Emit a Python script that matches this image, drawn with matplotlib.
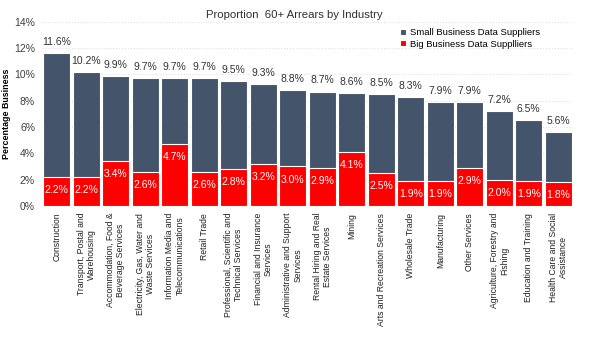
import matplotlib
matplotlib.use('Agg')
import matplotlib.pyplot as plt
import numpy as np

plt.rcParams['font.family'] = ['Liberation Sans', 'DejaVu Sans']

industries = ['Construction', 'Transport, Postal and\nWarehousing',
              'Accommodation, Food &\nBeverage Services',
              'Electricity, Gas, Water and\nWaste Services',
              'Information Media and\nTelecommunications', 'Retail Trade',
              'Professional, Scientific and\nTechnical Services',
              'Financial and Insurance\nServices',
              'Administrative and Support\nServices',
              'Rental Hiring and Real\nEstate Services', 'Mining',
              'Arts and Recreation Services', 'Wholesale Trade', 'Manufacturing',
              'Other Services', 'Agriculture, Forestry and\nFishing',
              'Education and Training', 'Health Care and Social\nAssistance']
small_total = [11.6, 10.2, 9.9, 9.7, 9.7, 9.7, 9.5, 9.3, 8.8, 8.7, 8.6, 8.5, 8.3, 7.9, 7.9, 7.2, 6.5, 5.6]
big = [2.2, 2.2, 3.4, 2.6, 4.7, 2.6, 2.8, 3.2, 3.0, 2.9, 4.1, 2.5, 1.9, 1.9, 2.9, 2.0, 1.9, 1.8]
yticks = [0, 2, 4, 6, 8, 10, 12, 14]

grey = '#44546A'
red = '#FF0000'

fig = plt.figure(figsize=(6, 3.37), dpi=100)
ax = fig.add_axes([0.07, 0.389, 0.885, 0.546])

x = np.arange(len(industries))
ax.bar(x, small_total, width=0.92, color=grey, edgecolor='white', linewidth=0.8,
       label='Small Business Data Suppliers', zorder=2)
ax.bar(x, big, width=0.92, color=red, edgecolor='white', linewidth=0.8,
       label='Big Business Data Supplliers', zorder=3)

for xi, t in zip(x, small_total):
    ax.annotate(f'{t:.1f}%', (xi, t), xytext=(0, 8), textcoords='offset points',
                ha='center', va='center', fontsize=7.5, color='#333333')
for xi, v in zip(x, big):
    ax.annotate(f'{v:.1f}%', (xi, v), xytext=(0, -9.4), textcoords='offset points',
                ha='center', va='center', fontsize=7.5, color='white', zorder=4)

ax.set_xlim(-0.5, len(industries) - 0.5)
ax.set_ylim(0, 14)
ax.set_yticks(yticks)
ax.set_yticklabels([f'{t}%' for t in yticks], fontsize=7.5, color='#404040')
ax.set_xticks(x)
ax.set_xticklabels(industries, rotation=90, fontsize=6.2, color='#202020',
                   ha='center', va='top', multialignment='center')
ax.tick_params(length=0, pad=5)
ax.yaxis.grid(True, color='#E0E0E0', linestyle=':', linewidth=0.8, zorder=0)
ax.set_axisbelow(True)
for s in ax.spines.values():
    s.set_visible(False)

ax.set_ylabel('Percentage Business', fontsize=6.4, fontweight='bold')
ax.yaxis.set_label_coords(-0.058, 0.5)
fig.text(0.49, 0.955, 'Proportion  60+ Arrears by Industry', ha='center', va='center',
         fontsize=8.2, color='#303030')

ax.legend(loc='upper left', bbox_to_anchor=(0.668, 0.985), frameon=False, fontsize=6.8,
          handlelength=0.6, handleheight=0.6, handletextpad=0.4, labelspacing=0.25,
          borderaxespad=0)

fig.savefig('out.png', dpi=100)
